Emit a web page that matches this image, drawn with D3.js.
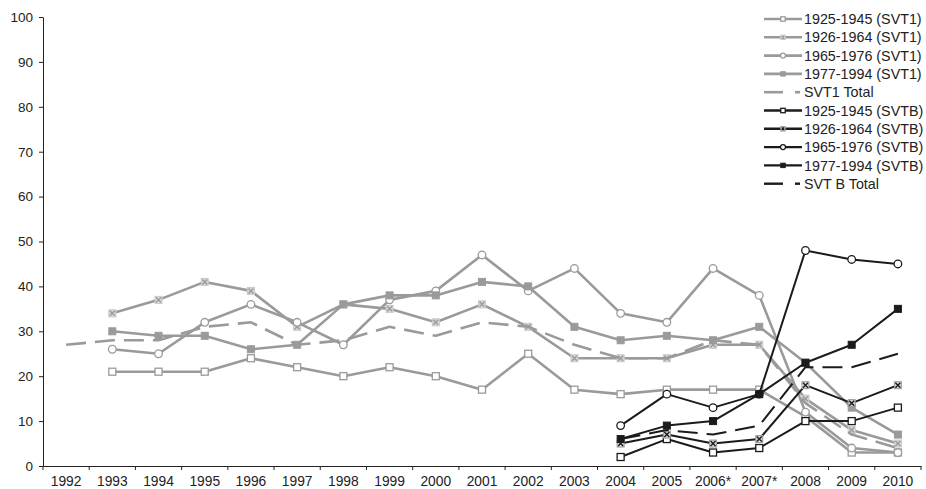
<!DOCTYPE html>
<html><head><meta charset="utf-8">
<script src="https://cdn.jsdelivr.net/npm/d3@7"></script>
<style>
body{margin:0;background:#fff;}
text{font-family:"Liberation Sans",Arial,sans-serif;}
</style></head>
<body><svg id="c" width="926" height="489"></svg>
<script>
const years = ["1992","1993","1994","1995","1996","1997","1998","1999","2000","2001","2002","2003","2004","2005","2006*","2007*","2008","2009","2010"];
const yTicks = [0,10,20,30,40,50,60,70,80,90,100];
// SVT1 series (1992..2010), null = no value
const svt1_1925 = [null,21,21,21,24,22,20,22,20,17,25,17,16,17,17,17,11,3,3];
const svt1_1926 = [null,34,37,41,39,31,36,35,32,36,31,24,24,24,27,27,15,8,5];
const svt1_1965 = [null,26,25,32,36,32,27,37,39,47,39,44,34,32,44,38,12,4,3];
const svt1_1977 = [null,30,29,29,26,27,36,38,38,41,40,31,28,29,28,31,23,13,7];
const svt1_total = [27,28,28,31,32,27,28,31,29,32,31,27,24,24,28,27,14,7,4];
// SVTB series
const svtb_1925 = [null,null,null,null,null,null,null,null,null,null,null,null,2,6,3,4,10,10,13];
const svtb_1926 = [null,null,null,null,null,null,null,null,null,null,null,null,5,7,5,6,18,14,18];
const svtb_1965 = [null,null,null,null,null,null,null,null,null,null,null,null,9,16,13,16,48,46,45];
const svtb_1977 = [null,null,null,null,null,null,null,null,null,null,null,null,6,9,10,16,23,27,35];
const svtb_total = [null,null,null,null,null,null,null,null,null,null,null,null,6,8,7,9,22,22,25];

const GRAY="#999a9c", BLACK="#1b1b1b";
const series = [
  {name:"1925-1945 (SVT1)", data:svt1_1925, color:GRAY, marker:"osq"},
  {name:"1926-1964 (SVT1)", data:svt1_1926, color:GRAY, marker:"x"},
  {name:"1965-1976 (SVT1)", data:svt1_1965, color:GRAY, marker:"circle"},
  {name:"1977-1994 (SVT1)", data:svt1_1977, color:GRAY, marker:"fsq"},
  {name:"SVT1 Total", data:svt1_total, color:GRAY, marker:null, dash:true},
  {name:"1925-1945 (SVTB)", data:svtb_1925, color:BLACK, marker:"osq"},
  {name:"1926-1964 (SVTB)", data:svtb_1926, color:BLACK, marker:"x"},
  {name:"1965-1976 (SVTB)", data:svtb_1965, color:BLACK, marker:"circle"},
  {name:"1977-1994 (SVTB)", data:svtb_1977, color:BLACK, marker:"fsq"},
  {name:"SVT B Total", data:svtb_total, color:BLACK, marker:null, dash:true}
];

const svg = d3.select("#c");
const L=43, R=921, T=17, B=466;
const x = d3.scaleBand().domain(years).range([L,R]).padding(0);
const y = d3.scaleLinear().domain([0,100]).range([B,T]);
const cx = d => x(d)+x.bandwidth()/2;

// axes
const yAxis = d3.axisLeft(y).tickValues(yTicks).tickSize(4).tickSizeOuter(0);
const gy = svg.append("g").attr("transform",`translate(${L},0)`).call(yAxis);
gy.selectAll("text").attr("font-size",13.5).attr("fill","#222").attr("dx","-3");
gy.selectAll("line,path").attr("stroke","#222");

const xAxis = d3.axisBottom(x).tickSize(0).tickSizeOuter(0);
const gx = svg.append("g").attr("transform",`translate(0,${B})`).call(xAxis);
gx.selectAll("text").attr("font-size",13.8).attr("fill","#222").attr("dy","1.2em");
gx.selectAll("path").attr("stroke","#222");
// tick marks at band boundaries
const bounds = years.map(d=>x(d)).concat([R]);
gx.selectAll(".bt").data(bounds).enter().append("line")
  .attr("x1",d=>d).attr("x2",d=>d).attr("y1",0).attr("y2",4).attr("stroke","#222");

function drawMarker(g, type, color, px, py, s){
  s = s||3.5;
  if(type==="osq"){
    g.append("rect").attr("x",px-s).attr("y",py-s).attr("width",2*s).attr("height",2*s)
     .attr("fill","#fff").attr("stroke",color).attr("stroke-width",1.3);
  } else if(type==="fsq"){
    g.append("rect").attr("x",px-s).attr("y",py-s).attr("width",2*s).attr("height",2*s)
     .attr("fill",color).attr("stroke",color).attr("stroke-width",1);
  } else if(type==="circle"){
    g.append("circle").attr("cx",px).attr("cy",py).attr("r",s+0.3)
     .attr("fill","#fff").attr("stroke",color).attr("stroke-width",1.3);
  } else if(type==="x"){
    g.append("rect").attr("x",px-s).attr("y",py-s).attr("width",2*s).attr("height",2*s)
     .attr("fill","#d8d8d8").attr("stroke",color===GRAY?"#c8c8c8":"#999a9c").attr("stroke-width",1);
    g.append("path").attr("d",`M${px-s+1},${py-s+1}L${px+s-1},${py+s-1}M${px+s-1},${py-s+1}L${px-s+1},${py+s-1}`)
     .attr("stroke",color).attr("stroke-width",1.4);
  }
}

const line = d3.line().defined(d=>d.v!=null).x(d=>cx(d.k)).y(d=>y(d.v));
series.forEach(s=>{
  const pts = years.map((k,i)=>({k, v:s.data[i]}));
  const g = svg.append("g");
  g.append("path").datum(pts).attr("d",line).attr("fill","none")
    .attr("stroke",s.color).attr("stroke-width",s.color===GRAY?2.6:2)
    .attr("stroke-dasharray",s.dash?"20,9":null).attr("stroke-linejoin","round");
  if(s.marker){
    pts.filter(p=>p.v!=null).forEach(p=>drawMarker(g,s.marker,s.color,cx(p.k),y(p.v)));
  }
});

// legend
const lg = svg.append("g");
series.forEach((s,i)=>{
  const ly = 19 + i*18.3;
  const g = lg.append("g");
  const sw = s.color===GRAY?2.6:2.4;
  if(s.dash){
    g.append("line").attr("x1",764).attr("x2",783).attr("y1",ly).attr("y2",ly)
      .attr("stroke",s.color).attr("stroke-width",sw);
    g.append("line").attr("x1",795).attr("x2",800).attr("y1",ly).attr("y2",ly)
      .attr("stroke",s.color).attr("stroke-width",sw);
  } else {
    g.append("line").attr("x1",764).attr("x2",802).attr("y1",ly).attr("y2",ly)
      .attr("stroke",s.color).attr("stroke-width",sw);
    drawMarker(g,s.marker,s.color,783,ly,2.2);
  }
  g.append("text").attr("x",804).attr("y",ly).attr("dy","0.36em")
    .attr("font-size",14.3).attr("fill","#222").text(s.name);
});
</script></body></html>
